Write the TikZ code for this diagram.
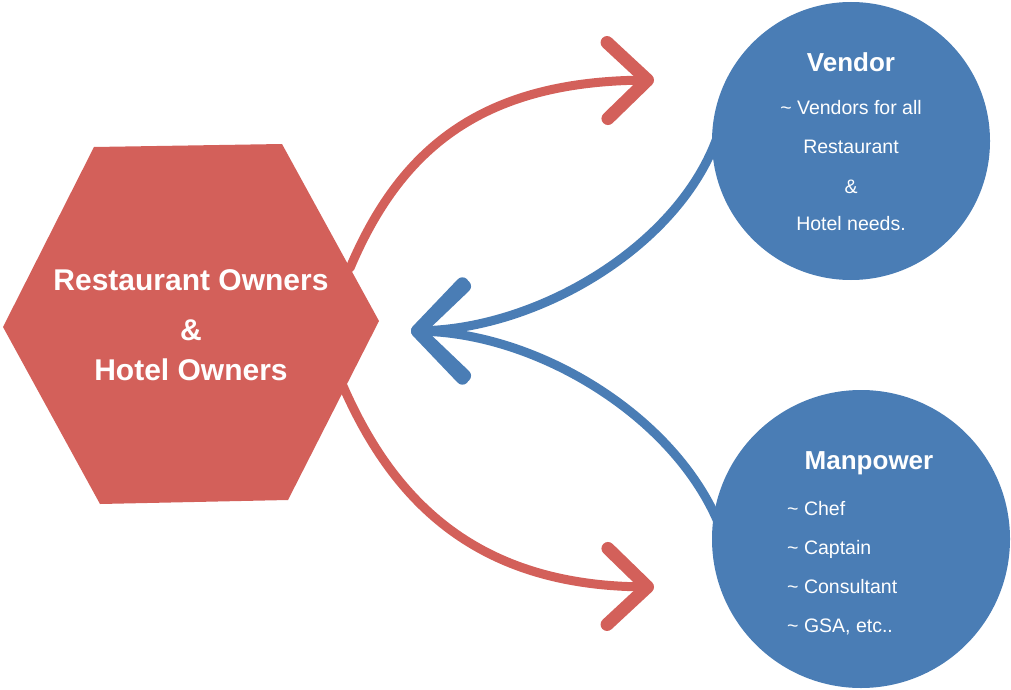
\documentclass[tikz,border=0pt]{standalone}
\usepackage{fontspec}
\setmainfont{Liberation Sans}
\usetikzlibrary{arrows.meta}
\definecolor{hexred}{HTML}{D3605A}
\definecolor{cblue}{HTML}{4A7DB5}
\begin{document}
\begin{tikzpicture}[x=1pt,y=-1pt,
  redarrow/.style={draw=hexred, line width=9pt, line cap=round,
    -{Straight Barb[length=40pt,width=76pt,line width=13pt,round]}},
  bluearrow/.style={draw=cblue, line width=9pt, line cap=round,
    -{Straight Barb[length=46pt,width=92pt,line width=13pt,round]}},
  bubble/.style={circle, fill=cblue, inner sep=0pt},
  hextext/.style={text=white, anchor=base, inner sep=0pt, font=\fontsize{30}{36}\selectfont\bfseries},
  titletext/.style={text=white, anchor=base, inner sep=0pt, font=\fontsize{26}{31}\selectfont\bfseries},
  bodytext/.style={text=white, anchor=base, inner sep=0pt, font=\fontsize{19.5}{23}\selectfont},
  itemtext/.style={bodytext, anchor=base west}]
\useasboundingbox (0,0) rectangle (1011,690);
% connector end points
\coordinate (hexUp) at (350,268);
\coordinate (hexDown) at (343,386);
\coordinate (tipVendor) at (654,80);
\coordinate (tipMan) at (654,587);
\coordinate (tipHex) at (411,331);
\coordinate (vendIn) at (718,135);
\coordinate (manIn) at (722,532);
% red arrows
\draw[redarrow] (hexUp) .. controls (400,150) and (480,82) .. (tipVendor);
\draw[redarrow] (hexDown) .. controls (395,505) and (480,585) .. (tipMan);
% blue arrows
\draw[bluearrow] (vendIn) .. controls (680,245) and (540,328) .. (tipHex);
\draw[bluearrow] (manIn) .. controls (680,419) and (540,334) .. (tipHex);
% hexagon
\fill[hexred] (94,147) -- (282,144) -- (379,321) -- (288,500) -- (100,504) -- (3,327) -- cycle;
\node[hextext] (h1) at (191,290.7) {Restaurant Owners};
\node[hextext] (h2) at (191,340.9) {\&};
\node[hextext] (h3) at (191,380.4) {Hotel Owners};
% circles
\node[bubble, minimum size=278pt] (vendor) at (851,141) {};
\node[bubble, minimum size=298pt] (manpower) at (861,539) {};
% vendor text
\node[titletext] (vt) at (851,71.3) {Vendor};
\node[bodytext] (v1) at (851,114) {\textasciitilde{} Vendors for all};
\node[bodytext] (v2) at (851,153) {Restaurant};
\node[bodytext] (v3) at (851,193) {\&};
\node[bodytext] (v4) at (851,230.5) {Hotel needs.};
% manpower text
\node[titletext] (mt) at (869,469.8) {Manpower};
\node[itemtext] (m1) at (787,515) {\textasciitilde{} Chef};
\node[itemtext] (m2) at (787,554) {\textasciitilde{} Captain};
\node[itemtext] (m3) at (787,593) {\textasciitilde{} Consultant};
\node[itemtext] (m4) at (787,632) {\textasciitilde{} GSA, etc..};
\end{tikzpicture}
\end{document}
